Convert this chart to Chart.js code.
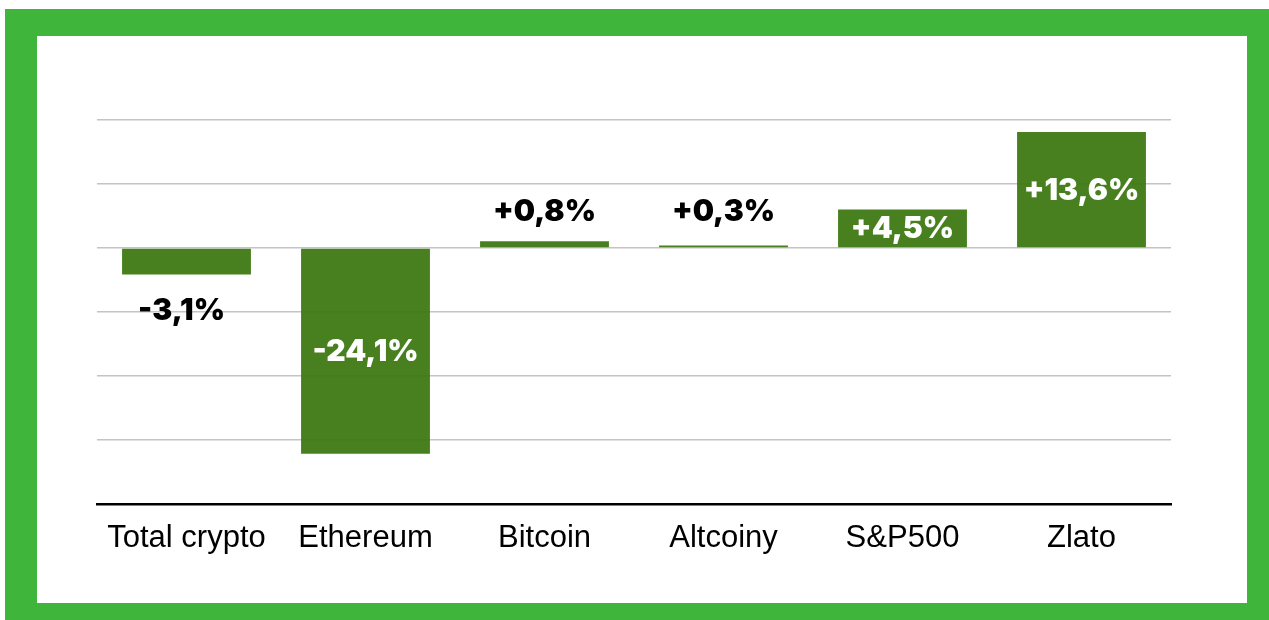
<!DOCTYPE html>
<html>
<head>
<meta charset="utf-8">
<script src="https://cdn.jsdelivr.net/npm/chart.js@4/dist/chart.umd.min.js"></script>
<style>
  html, body { margin: 0; padding: 0; background: #ffffff; width: 1269px; height: 620px; overflow: hidden; }
  #frame { position: absolute; left: 5px; top: 9px; width: 1264px; height: 611px; background: #3fb53b; }
  #inner { position: absolute; left: 37px; top: 36px; width: 1210px; height: 567px; background: #ffffff; }
  #c { position: absolute; left: 0; top: 0; }
</style>
</head>
<body>
<div id="frame"></div>
<div id="inner"></div>
<canvas id="c" width="1269" height="620"></canvas>
<script>
const categories = ['Total crypto', 'Ethereum', 'Bitcoin', 'Altcoiny', 'S&P500', 'Zlato'];
const values = [-3.1, -24.1, 0.8, 0.3, 4.5, 13.6];
const valueLabels = ['-3,1%', '-24,1%', '+0,8%', '+0,3%', '+4,5%', '+13,6%'];
const yMin = -30, yMax = 15, yStep = 7.5;

const labelPlugin = {
  id: 'valueLabels',
  afterDatasetsDraw(chart) {
    const ctx = chart.ctx;
    const meta = chart.getDatasetMeta(0);
    ctx.save();
    ctx.font = '900 30px Inter, "DejaVu Sans", sans-serif';
    ctx.textAlign = 'center';
    ctx.textBaseline = 'middle';
    meta.data.forEach((el, i) => {
      const v = values[i];
      const p = el.getProps(['x', 'y', 'base'], true);
      let ty, color;
      if (Math.abs(v) >= 4) {
        ty = (p.y + p.base) / 2 + 1;
        color = '#ffffff';
      } else if (v < 0) {
        ty = p.y + 37;
        color = '#000000';
      } else {
        ty = p.base - 35;
        color = '#000000';
      }
      ctx.fillStyle = color;
      ctx.fillText(valueLabels[i], p.x - (v < 0 && Math.abs(v) < 4 ? 5 : 0), ty);
    });
    ctx.restore();
  }
};

new Chart(document.getElementById('c'), {
  type: 'bar',
  data: {
    labels: categories,
    datasets: [{
      data: values,
      backgroundColor: 'rgba(62,121,20,0.95)',
      borderWidth: 0,
      barPercentage: 0.72,
      categoryPercentage: 1.0
    }]
  },
  options: {
    responsive: false,
    animation: false,
    devicePixelRatio: 1,
    layout: { padding: { left: 97, right: 98, top: 120, bottom: 0 } },
    plugins: { legend: { display: false }, tooltip: { enabled: false } },
    scales: {
      x: {
        grid: { display: false, drawTicks: false },
        border: { display: true, color: '#000000', width: 2.5 },
        ticks: {
          color: '#000000',
          padding: 16,
          font: { family: '"Liberation Sans", Arial, sans-serif', size: 31 }
        },
        afterFit(s) { s.height = 116; }
      },
      y: {
        min: yMin, max: yMax,
        ticks: { display: false, stepSize: yStep },
        grid: { color: '#c4c4c4', lineWidth: 1.5, drawTicks: false },
        border: { display: false }
      }
    }
  },
  plugins: [labelPlugin]
});
</script>
</body>
</html>
